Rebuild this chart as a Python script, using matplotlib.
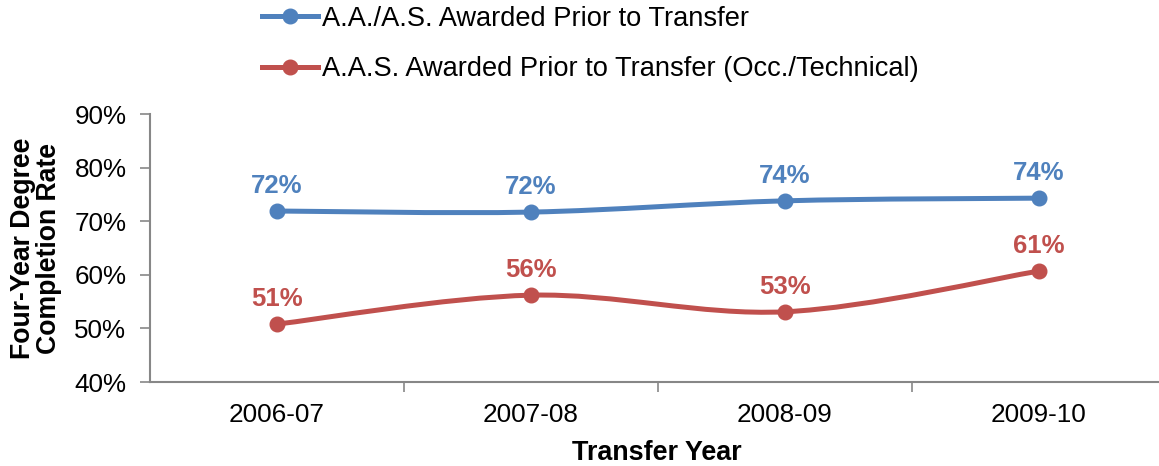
import matplotlib.pyplot as plt
import numpy as np
from matplotlib.path import Path
from matplotlib.patches import PathPatch
from matplotlib.lines import Line2D

plt.rcParams['font.family'] = ['Liberation Sans', 'DejaVu Sans']

years = ['2006-07', '2007-08', '2008-09', '2009-10']
aa_as = [71.9, 71.7, 73.8, 74.3]
aas_occ = [50.8, 56.2, 53.1, 60.7]
aa_as_labels = ['72%', '72%', '74%', '74%']
aas_occ_labels = ['51%', '56%', '53%', '61%']
series_names = ['A.A./A.S. Awarded Prior to Transfer',
                'A.A.S. Awarded Prior to Transfer (Occ./Technical)']

blue = '#4F81BD'
red = '#C0504D'
axis_grey = '#878787'

W, H = 1159, 466
fig = plt.figure(figsize=(W / 100, H / 100), dpi=100)
ax = fig.add_axes([150 / W, 84 / H, (W - 150) / W, 268 / H])

x = np.arange(len(years))


def smooth_path(xs, ys):
    # Excel-style smoothed line: cubic Bezier segments through the points
    pts = np.column_stack([xs, ys]).astype(float)
    verts = [pts[0]]
    codes = [Path.MOVETO]
    n = len(pts)
    for i in range(n - 1):
        p0 = pts[i - 1] if i > 0 else pts[i]
        p1 = pts[i]
        p2 = pts[i + 1]
        p3 = pts[i + 2] if i + 2 < n else pts[i + 1]
        c1 = p1 + (p2 - p0) / 6
        c2 = p2 - (p3 - p1) / 6
        verts += [c1, c2, p2]
        codes += [Path.CURVE4] * 3
    return Path(verts, codes)


for vals, labels, col in [(aa_as, aa_as_labels, blue), (aas_occ, aas_occ_labels, red)]:
    ax.add_patch(PathPatch(smooth_path(x, vals), fill=False, edgecolor=col,
                           lw=3.6, capstyle='round', zorder=2))
    ax.plot(x, vals, 'o', color=col, ms=10.5, zorder=3, linestyle='none')
    for xi, v, lab in zip(x, vals, labels):
        ax.annotate(lab, (xi, v), xytext=(0, 13), textcoords='offset points',
                    ha='center', va='baseline', color=col, fontsize=18.5,
                    fontweight='bold')

ax.set_xlim(-0.5, -0.5 + (W - 150) / 254)
ax.set_ylim(40, 90)
ax.set_yticks(np.arange(40, 91, 10))
ax.set_yticklabels([f'{v}%' for v in range(40, 91, 10)])
ax.set_xticks(x)
ax.set_xticklabels(years)
ax.set_xticks([0.5, 1.5, 2.5], minor=True)

for s in ['top', 'right']:
    ax.spines[s].set_visible(False)
for s in ['left', 'bottom']:
    ax.spines[s].set_color(axis_grey)
    ax.spines[s].set_linewidth(1.5)

ax.tick_params(axis='y', direction='out', length=7, width=1.2, color=axis_grey,
               labelsize=18.7, pad=10)
ax.tick_params(axis='x', which='major', length=0, labelsize=18.8, pad=15)
ax.tick_params(axis='x', which='minor', direction='out', length=7, width=1.2,
               color=axis_grey)

fig.text(657 / W, 1 - 453 / H, 'Transfer Year', ha='center', va='center',
         fontsize=19.4, fontweight='bold')
fig.text(36.5 / W, 1 - 248 / H, 'Four-Year Degree\nCompletion Rate', ha='center',
         va='center', rotation=90, fontsize=19.2, fontweight='bold',
         linespacing=1.0)

handles = [Line2D([], [], color=blue, lw=3.6, marker='o', ms=10.5),
           Line2D([], [], color=red, lw=3.6, marker='o', ms=10.5)]
fig.legend(handles, series_names, loc='upper left',
           bbox_to_anchor=(262 / W, 1 - 6 / H), frameon=False, fontsize=19.6,
           handlelength=2.05, handletextpad=0.15, labelspacing=0.9,
           borderpad=0, borderaxespad=0)

fig.savefig('out.png', dpi=100)
